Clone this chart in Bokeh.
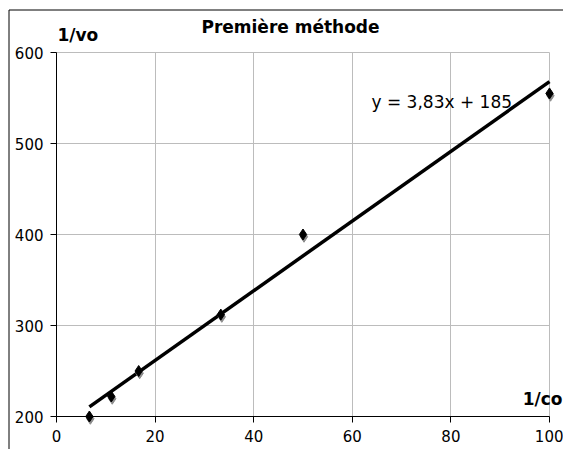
from bokeh.plotting import figure
from bokeh.models import Range1d, Label, FixedTicker, ColumnDataSource, BoxAnnotation
from bokeh.embed import file_html
from bokeh.resources import INLINE

# data
inv_c0 = [6.67, 11.11, 16.67, 33.33, 50.0, 100.0]
inv_v0 = [200, 222, 250, 312, 400, 555]
slope = 3.83
intercept = 185
x_ticks = [0, 20, 40, 60, 80, 100]
y_ticks = [200, 300, 400, 500, 600]
title_text = "Première méthode"
y_label = "1/vo"
x_label = "1/co"
eq_text = "y = 3,83x + 185"

FONT = "DejaVu Sans"
W, H = 563, 449
# frame pixel layout of the plotting area inside the canvas
L, R, T, B = 56, 549, 52, 416
xs = (R - L) / (x_ticks[-1] - x_ticks[0])
ys = (B - T) / (y_ticks[-1] - y_ticks[0])
x_start = x_ticks[0] - L / xs
x_end = x_ticks[-1] + (W - R) / xs
y_start = y_ticks[0] - (H - B) / ys
y_end = y_ticks[-1] + T / ys

p = figure(width=W, height=H, output_backend="svg", toolbar_location=None,
           x_range=Range1d(x_start, x_end), y_range=Range1d(y_start, y_end),
           min_border=0)
p.outline_line_color = None
p.background_fill_color = "white"
p.border_fill_color = "white"

p.xaxis.ticker = FixedTicker(ticks=x_ticks)
p.yaxis.ticker = FixedTicker(ticks=y_ticks)
p.xaxis.fixed_location = y_ticks[0]
p.yaxis.fixed_location = x_ticks[0]
p.xaxis.bounds = (x_ticks[0], x_ticks[-1])
p.yaxis.bounds = (y_ticks[0], y_ticks[-1])
for ax in (p.xaxis[0], p.yaxis[0]):
    ax.axis_line_color = "black"
    ax.major_tick_line_color = "black"
    ax.major_tick_out = 6
    ax.major_tick_in = 0
    ax.minor_tick_line_color = None
    ax.major_label_text_font = FONT
    ax.major_label_text_font_size = "15px"
    ax.major_label_text_color = "black"
p.yaxis.major_label_standoff = 7
p.xaxis.major_label_standoff = 7

p.xgrid.grid_line_color = "#bcbcbc"
p.ygrid.grid_line_color = "#bcbcbc"
p.xgrid.bounds = (x_ticks[0], x_ticks[-1])
p.ygrid.bounds = (y_ticks[0], y_ticks[-1])
p.xgrid.cross_bounds = (y_ticks[0], y_ticks[-1])
p.ygrid.cross_bounds = (x_ticks[0], x_ticks[-1])

# outer chart border (left and top edges visible)
p.add_layout(BoxAnnotation(left=8.5, right=W + 3, top=H - 9.5, bottom=-3,
                           left_units="screen", right_units="screen",
                           top_units="screen", bottom_units="screen",
                           fill_color=None, fill_alpha=0, line_color="black",
                           line_alpha=1, line_width=1))

# fit line
fx = [inv_c0[0], inv_c0[-1]]
fy = [slope * v + intercept for v in fx]
p.line(fx, fy, line_color="black", line_width=3.5)

# markers with shadow
src = ColumnDataSource(dict(x=inv_c0, y=inv_v0,
                            sx=[v + 0.2 for v in inv_c0],
                            sy=[v - 2.5 for v in inv_v0]))
p.scatter("sx", "sy", source=src, marker="diamond", size=11,
          fill_color="#8c8c8c", line_color="#8c8c8c")
p.scatter("x", "y", source=src, marker="diamond", size=11,
          fill_color="black", line_color="black")

p.add_layout(Label(x=290, y=H - 26, x_units="screen", y_units="screen", text=title_text,
                   text_font=FONT, text_font_size="17px", text_font_style="bold",
                   text_color="black", text_align="center", text_baseline="middle"))
p.add_layout(Label(x=57, y=H - 34, x_units="screen", y_units="screen", text=y_label,
                   text_font=FONT, text_font_size="17px", text_font_style="bold",
                   text_color="black", text_align="left", text_baseline="middle"))
p.add_layout(Label(x=562, y=H - 398, x_units="screen", y_units="screen", text=x_label,
                   text_font=FONT, text_font_size="17px", text_font_style="bold",
                   text_color="black", text_align="right", text_baseline="middle"))
p.add_layout(Label(x=371, y=H - 101, x_units="screen", y_units="screen", text=eq_text,
                   text_font=FONT, text_font_size="17px",
                   text_color="black", text_align="left", text_baseline="middle"))

open("out.html", "w").write(file_html(p, INLINE))
